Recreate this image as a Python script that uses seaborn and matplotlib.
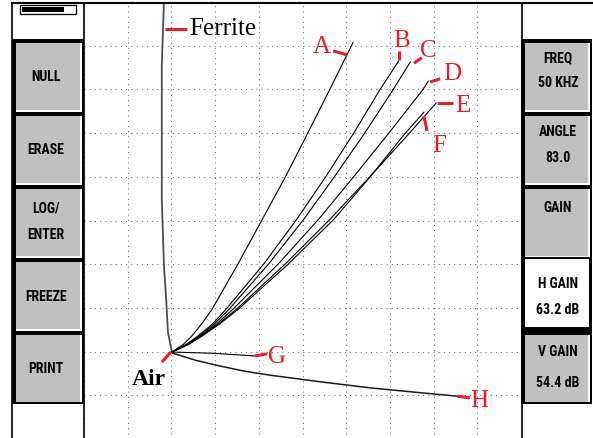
import matplotlib
matplotlib.use("Agg")
import matplotlib.pyplot as plt
from matplotlib import font_manager
from matplotlib.patches import Rectangle
import pandas as pd
import seaborn as sns

# ---------------------------------------------------------------------------
# Impedance-plane traces in screen divisions (10 x 10 grid), air point near (2, 2)
# ---------------------------------------------------------------------------
ferrite_x = [2.01, 1.92, 1.88, 1.83, 1.78, 1.78, 1.81, 1.83]
ferrite_y = [1.99, 2.45, 3.20, 3.96, 5.49, 8.54, 9.45, 10.0]

a_x = [2.01, 2.28, 2.47, 2.69, 2.93, 3.52, 4.06, 4.61, 5.11, 5.62, 6.16]
a_y = [1.99, 2.17, 2.36, 2.63, 2.97, 4.00, 4.99, 6.00, 6.98, 7.99, 9.08]

b_x = [2.01, 2.35, 2.61, 2.94, 3.25, 4.11, 4.87, 5.53, 6.16, 6.77, 7.20]
b_y = [1.99, 2.17, 2.36, 2.63, 2.97, 4.00, 5.03, 6.00, 6.98, 7.99, 8.65]

c_x = [2.01, 2.37, 2.64, 2.98, 3.32, 4.22, 5.03, 5.73, 6.41, 7.07, 7.47]
c_y = [1.99, 2.17, 2.36, 2.63, 2.97, 4.00, 5.03, 6.00, 6.98, 7.99, 8.63]

d_x = [2.01, 2.38, 2.66, 3.03, 3.41, 4.44, 5.37, 6.17, 6.96, 7.75, 7.88]
d_y = [1.99, 2.17, 2.36, 2.63, 2.97, 4.00, 5.03, 6.00, 6.98, 7.99, 8.19]

e_x = [2.01, 2.40, 2.69, 3.07, 3.49, 4.60, 5.63, 6.54, 7.43, 8.06]
e_y = [1.99, 2.17, 2.36, 2.63, 2.97, 4.00, 5.03, 6.00, 6.98, 7.69]

f_x = [2.01, 2.40, 2.71, 3.10, 3.53, 4.67, 5.72, 6.55, 7.32, 7.78]
f_y = [1.99, 2.17, 2.36, 2.63, 2.97, 4.00, 5.03, 6.00, 6.96, 7.48]

g_x = [2.01, 3.00, 3.91]
g_y = [1.99, 1.96, 1.90]

h_x = [2.01, 2.56, 3.11, 3.68, 4.26, 5.40, 6.55, 7.69, 8.54]
h_y = [1.97, 1.80, 1.67, 1.55, 1.46, 1.31, 1.17, 1.06, 0.98]

trace_names = ["Ferrite", "A", "B", "C", "D", "E", "F", "G", "H"]
trace_xs = [ferrite_x, a_x, b_x, c_x, d_x, e_x, f_x, g_x, h_x]
trace_ys = [ferrite_y, a_y, b_y, c_y, d_y, e_y, f_y, g_y, h_y]

# Soft-key captions of the instrument screen
left_keys = [["NULL"], ["ERASE"], ["LOG/", "ENTER"], ["FREEZE"], ["PRINT"]]
right_keys = [["FREQ", "50 KHZ"], ["ANGLE", "83.0"], ["GAIN"],
              ["H GAIN", "63.2 dB"], ["V GAIN", "54.4 dB"]]

RED = "#ee1d23"
KEY_GRAY = "#c0c0c0"

sns.set_style("white")
plt.rcParams["font.family"] = ["Liberation Serif", "DejaVu Serif"]

# narrow bold face for the soft-key captions
_entries = font_manager.fontManager.ttflist
_names = {f.name for f in _entries}
key_font = dict(fontweight="bold", color="black", ha="center", va="center")
if "Liberation Sans Narrow" in _names:
    key_font.update(family=["Liberation Sans Narrow", "DejaVu Sans"], fontsize=10)
elif "Roboto Condensed" in _names:
    key_font.update(family=["Roboto Condensed", "DejaVu Sans"], fontsize=10)
elif any(f.name == "DejaVu Sans" and str(f.stretch) == "condensed" for f in _entries):
    key_font.update(family=["DejaVu Sans"], fontstretch="condensed", fontsize=9.5)
else:
    key_font.update(family=["DejaVu Sans"], fontsize=8.5)

W, H = 593, 439
fig = plt.figure(figsize=(W / 100, H / 100), dpi=100)
fig.patch.set_facecolor("white")

# Display area: 10 x 10 divisions
ax = fig.add_axes([84 / W, (H - 440) / H, 437 / W, 437 / H])
ax.set_xlim(0, 10)
ax.set_ylim(0, 10)
ax.set_xticks(range(11))
ax.set_yticks(range(11))
ax.tick_params(length=0, labelbottom=False, labelleft=False)
ax.grid(True, color="#6e6e6e", linestyle=(0, (1, 4)), linewidth=0.75)
for s in ax.spines.values():
    s.set_visible(False)

frames = []
for name, xs, ys in zip(trace_names, trace_xs, trace_ys):
    frames.append(pd.DataFrame({"trace": name, "x": xs, "y": ys}))
df = pd.concat(frames, ignore_index=True)

for name in trace_names:
    sub = df[df["trace"] == name]
    if name == "Ferrite":
        color, lw = "#4d4d4d", 1.3
    elif name == "H":
        color, lw = "#1a1a1a", 1.1
    else:
        color, lw = "black", 0.8
    sns.lineplot(data=sub, x="x", y="y", sort=False, estimator=None,
                 color=color, linewidth=lw, ax=ax, legend=False)
ax.set_xlabel("")
ax.set_ylabel("")

# Red leader lines from the captions to the traces
leaders = {
    "Ferrite": ([1.85, 2.36], [9.38, 9.38]),
    "A": ([5.70, 6.02], [8.88, 8.79]),
    "B": ([7.21, 7.21], [8.88, 8.67]),
    "C": ([7.55, 7.73], [8.60, 8.72]),
    "D": ([7.92, 8.15], [8.17, 8.24]),
    "E": ([8.08, 8.44], [7.69, 7.69]),
    "F": ([7.78, 7.85], [7.39, 7.05]),
    "G": ([3.91, 4.19], [1.90, 1.95]),
    "H": ([8.54, 8.83], [0.98, 0.94]),
    "Air": ([1.78, 1.99], [1.76, 1.99]),
}
for xs, ys in leaders.values():
    ax.plot(xs, ys, color=RED, linewidth=2.2, solid_capstyle="butt")

captions = {
    "A": (5.24, 8.86), "B": (7.07, 8.99), "C": (7.69, 8.76), "D": (8.22, 8.24),
    "E": (8.49, 7.51), "F": (7.96, 6.59), "G": (4.21, 1.76), "H": (8.83, 0.76),
}
for txt, (x, y) in captions.items():
    ax.text(x, y, txt, color=RED, fontsize=18, ha="left", va="baseline")
ax.text(2.40, 9.27, "Ferrite", color="black", fontsize=18, ha="left", va="baseline")
ax.text(1.10, 1.26, "Air", color="black", fontsize=17, fontweight="bold",
        ha="left", va="baseline")

# ---------------------------------------------------------------------------
# Screen frame and soft-key panels (pixel coordinates)
# ---------------------------------------------------------------------------
ui = fig.add_axes([0, 0, 1, 1], zorder=5)
ui.set_xlim(0, W)
ui.set_ylim(H, 0)
ui.axis("off")
ui.patch.set_alpha(0)


def key(x0, x1, top, fill=KEY_GRAY):
    ui.add_patch(Rectangle((x0, top), x1 - x0, 73, fc="black", ec="none"))
    ui.add_patch(Rectangle((x0 + 3.5, top + 3.5), x1 - x0 - 5.5, 69.5,
                           fc="white", ec="none"))
    ui.add_patch(Rectangle((x0 + 3.5, top + 3.5), x1 - x0 - 7.5, 67,
                           fc=fill, ec="none"))


def pressed_key(x0, x1, top):
    ui.add_patch(Rectangle((x0, top - 1), x1 - x0, 74, fc="black", ec="none"))
    ui.add_patch(Rectangle((x0 + 3.5, top + 1), x1 - x0 - 6.5, 67.5,
                           fc="white", ec="none"))


tops = [40, 113, 186, 259, 332]

# left panel
for t in tops:
    key(12, 84, t)
ui.add_patch(Rectangle((12, 403), 72, 2, fc="black", ec="none"))
left_text_y = [[77], [150], [209, 235], [297], [369]]
for lines, ys in zip(left_keys, left_text_y):
    for s, y in zip(lines, ys):
        ui.text(46, y, s, **key_font)

# right panel
for i, t in enumerate(tops):
    if i == 3:
        pressed_key(521, 592, t)
    else:
        key(521, 592, t)
ui.add_patch(Rectangle((521, 403), 71, 2, fc="black", ec="none"))
right_text_y = [[58, 83], [132, 158], [208], [284, 310], [352, 383]]
for lines, ys in zip(right_keys, right_text_y):
    for s, y in zip(lines, ys):
        ui.text(558, y, s, **key_font)

# frame lines
ui.plot([11, W], [3.5, 3.5], color="black", linewidth=1.5, solid_capstyle="butt")
for xv in (11.5, 83.5, 521.5):
    ui.plot([xv, xv], [3, H], color="black", linewidth=1.2, solid_capstyle="butt")

# level indicator in the top-left box
ui.add_patch(Rectangle((20, 5.5), 56, 9, fc="white", ec="black", lw=0.9))
ui.add_patch(Rectangle((22, 7.5), 42, 5, fc="black", ec="none"))

fig.savefig("out.png", dpi=100)
